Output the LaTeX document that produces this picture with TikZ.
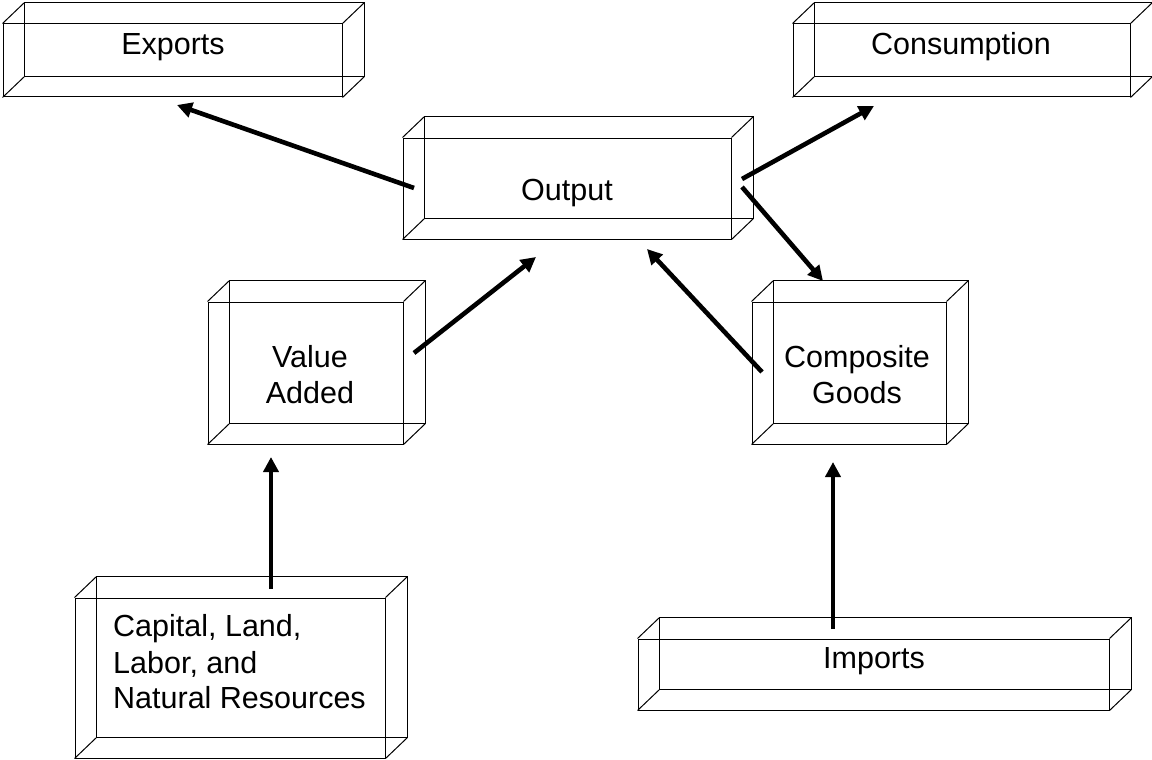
\documentclass[tikz,border=0pt]{standalone}
\usepackage{fontspec}
\setmainfont{Liberation Sans}
\usetikzlibrary{arrows.meta}
\tikzset{
  face/.style={draw, line width=1pt, inner sep=0pt, rectangle},
  edge/.style={line width=1pt},
  lbl/.style={inner sep=0pt, anchor=base, font=\fontsize{30.5}{36}\selectfont},
  lblw/.style={lbl, anchor=base west},
  flow/.style={line width=4.6pt, -{Triangle[length=15pt,width=15pt]}}
}
\newcommand{\cubebox}[4]{%
  \node[face, minimum width=#3pt, minimum height=#4pt] (#1) at #2 {};
  \draw[edge] ([shift={(22,-21)}]#1.south west) rectangle ([shift={(22,-21)}]#1.north east);
  \foreach \c in {south west, south east, north west, north east}
    \draw[edge] (#1.\c) -- ([shift={(22,-21)}]#1.\c);
}
\begin{document}
\begin{tikzpicture}[x=1pt, y=-1pt]
\useasboundingbox (0,0) rectangle (1152,760);
\cubebox{exp}{(172.5,60.5)}{339}{73}
\cubebox{con}{(961.5,60.5)}{337}{73}
\cubebox{out}{(567,188.5)}{328}{101}
\cubebox{va}{(305.5,373)}{195}{142}
\cubebox{cg}{(849,373)}{194}{142}
\cubebox{cap}{(230,678)}{310}{160}
\cubebox{imp}{(873.5,674.5)}{471}{71}

\node[lbl] (texp) at (173,55) {Exports};
\node[lbl] (tcon) at (961,55) {Consumption};
\node[lbl] (tout) at (567,200) {Output};
\node[lbl] (tva1) at (310,367) {Value};
\node[lbl] (tva2) at (310,403) {Added};
\node[lbl] (tcg1) at (857,367) {Composite};
\node[lbl] (tcg2) at (857,403) {Goods};
\node[lblw] (tcap1) at (113,636) {Capital, Land,};
\node[lblw] (tcap2) at (113,673) {Labor, and};
\node[lblw] (tcap3) at (113,708) {Natural Resources};
\node[lbl] (timp) at (874,668) {Imports};

\coordinate (oe1) at (414,188);
\coordinate (oe2) at (177,105);
\coordinate (oc1) at (742,179);
\coordinate (oc2) at (874,106);
\coordinate (og1) at (742,187);
\coordinate (og2) at (823,281);
\coordinate (vo1) at (414,353);
\coordinate (vo2) at (536,257);
\coordinate (go1) at (762,372);
\coordinate (go2) at (647,249);
\coordinate (cv1) at (271,589);
\coordinate (cv2) at (271,457);
\coordinate (ig1) at (833,629);
\coordinate (ig2) at (833,462);

\draw[flow] (oe1) -- (oe2);
\draw[flow] (oc1) -- (oc2);
\draw[flow] (og1) -- (og2);
\draw[flow] (vo1) -- (vo2);
\draw[flow] (go1) -- (go2);
\draw[flow] (cv1) -- (cv2);
\draw[flow] (ig1) -- (ig2);
\end{tikzpicture}
\end{document}
